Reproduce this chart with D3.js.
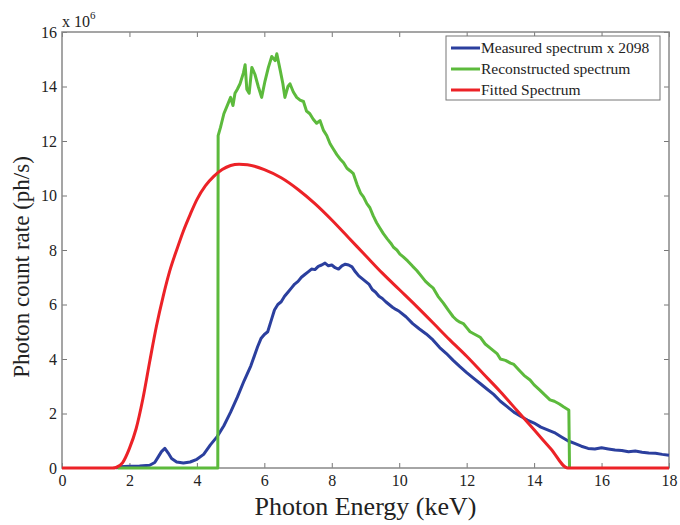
<!DOCTYPE html>
<html>
<head>
<meta charset="utf-8">
<script src="https://cdn.jsdelivr.net/npm/d3@7"></script>
<style>
  body { margin: 0; background: #fff; }
  svg text { font-family: "Liberation Serif", "DejaVu Serif", serif; fill: #222; }
</style>
</head>
<body>
<div id="chart"></div>
<script>
// data: [energy keV, count rate x 1e6]
var measured = [[1.6,0],[1.7,0.05],[2.0,0.06],[2.3,0.07],[2.6,0.1],[2.75,0.2],[2.85,0.4],[2.95,0.6],[3.05,0.72],[3.15,0.55],[3.25,0.35],[3.4,0.22],[3.6,0.18],[3.8,0.22],[4.0,0.32],[4.2,0.5],[4.4,0.85],[4.6,1.15],[4.8,1.55],[5.0,2.05],[5.2,2.6],[5.4,3.2],[5.6,3.75],[5.8,4.45],[5.9,4.75],[6.0,4.9],[6.1,5.0],[6.2,5.4],[6.3,5.8],[6.4,6.0],[6.5,6.1],[6.6,6.3],[6.7,6.45],[6.8,6.6],[6.9,6.75],[7.0,6.85],[7.1,7.0],[7.2,7.1],[7.3,7.2],[7.4,7.3],[7.5,7.28],[7.6,7.4],[7.7,7.45],[7.8,7.52],[7.9,7.42],[8.0,7.45],[8.1,7.35],[8.2,7.3],[8.3,7.42],[8.4,7.48],[8.5,7.45],[8.6,7.38],[8.7,7.2],[8.8,7.05],[8.9,6.95],[9.0,6.85],[9.1,6.75],[9.2,6.55],[9.3,6.45],[9.4,6.3],[9.5,6.22],[9.6,6.1],[9.7,6.0],[9.8,5.9],[9.9,5.82],[10.0,5.75],[10.2,5.55],[10.4,5.3],[10.6,5.1],[10.8,4.92],[11.0,4.7],[11.2,4.42],[11.4,4.2],[11.6,3.95],[11.8,3.72],[12.0,3.5],[12.2,3.3],[12.4,3.1],[12.6,2.9],[12.8,2.7],[13.0,2.45],[13.2,2.25],[13.4,2.05],[13.6,1.9],[13.8,1.76],[14.0,1.65],[14.2,1.5],[14.4,1.4],[14.6,1.3],[14.8,1.15],[15.0,1.0],[15.2,0.9],[15.4,0.8],[15.6,0.72],[15.8,0.7],[16.0,0.74],[16.2,0.7],[16.4,0.66],[16.6,0.64],[16.8,0.6],[17.0,0.62],[17.2,0.58],[17.4,0.55],[17.6,0.54],[17.8,0.5],[18.0,0.47]];

var reconstructed = [[1.65,0],[4.62,0],[4.63,12.2],[4.7,12.5],[4.8,13.0],[4.9,13.3],[5.0,13.6],[5.07,13.3],[5.13,13.75],[5.2,13.9],[5.28,14.1],[5.38,14.5],[5.43,14.8],[5.48,13.9],[5.55,13.75],[5.63,14.7],[5.72,14.45],[5.82,14.0],[5.92,13.6],[6.02,14.2],[6.12,14.7],[6.22,15.1],[6.32,14.95],[6.37,15.2],[6.47,14.6],[6.55,14.1],[6.61,13.6],[6.7,14.0],[6.76,14.1],[6.86,13.8],[6.96,13.6],[7.06,13.5],[7.16,13.45],[7.25,13.1],[7.35,13.0],[7.45,12.8],[7.55,12.65],[7.65,12.75],[7.75,12.4],[7.85,12.2],[7.95,11.9],[8.05,11.7],[8.15,11.5],[8.24,11.35],[8.35,11.2],[8.45,11.0],[8.55,10.9],[8.64,10.8],[8.75,10.4],[8.85,10.1],[8.94,9.95],[9.04,9.7],[9.13,9.55],[9.23,9.25],[9.33,9.0],[9.43,8.8],[9.53,8.6],[9.65,8.4],[9.75,8.25],[9.83,8.1],[9.93,8.0],[10.02,7.85],[10.12,7.75],[10.25,7.6],[10.4,7.4],[10.52,7.25],[10.65,7.05],[10.78,6.85],[10.91,6.7],[11.01,6.6],[11.15,6.3],[11.31,6.05],[11.45,5.8],[11.6,5.55],[11.7,5.43],[11.8,5.35],[11.9,5.3],[12.0,5.15],[12.1,5.0],[12.25,4.9],[12.4,4.8],[12.55,4.55],[12.7,4.4],[12.8,4.3],[12.9,4.2],[13.0,4.0],[13.15,3.95],[13.3,3.85],[13.4,3.8],[13.55,3.6],[13.7,3.4],[13.88,3.23],[14.0,3.05],[14.17,2.86],[14.3,2.7],[14.47,2.5],[14.6,2.45],[14.75,2.35],[14.87,2.25],[15.0,2.15],[15.03,2.12],[15.05,0]];

var fitted = [[0,0],[1.5,0],[1.6,0.02],[1.8,0.2],[2.0,0.72],[2.2,1.45],[2.4,2.55],[2.6,3.9],[2.8,5.2],[3.0,6.3],[3.2,7.25],[3.4,8.0],[3.6,8.7],[3.8,9.3],[4.0,9.85],[4.25,10.35],[4.5,10.7],[4.75,10.95],[5.0,11.1],[5.25,11.15],[5.5,11.13],[6.0,10.95],[6.5,10.65],[7.0,10.22],[7.5,9.7],[8.0,9.1],[8.5,8.45],[9.0,7.8],[9.5,7.15],[10.0,6.55],[10.5,5.95],[11.0,5.33],[11.5,4.7],[12.0,4.1],[12.5,3.45],[13.0,2.8],[13.5,2.1],[14.0,1.4],[14.5,0.7],[15.0,0],[18.0,0]];

var seriesNames = ["Measured spectrum x 2098", "Reconstructed spectrum", "Fitted Spectrum"];
var seriesColors = ["#2b3f9e", "#5cba3c", "#ec2227"];
var xTicks = [0, 2, 4, 6, 8, 10, 12, 14, 16, 18];
var yTicks = [0, 2, 4, 6, 8, 10, 12, 14, 16];

var svgWidth = 680, svgHeight = 525;
var margin = { top: 32, right: 11, bottom: 57, left: 62 };
var chartWidth = svgWidth - margin.left - margin.right;
var chartHeight = svgHeight - margin.top - margin.bottom;

var svg = d3.select("#chart")
    .append("svg")
    .attr("width", svgWidth)
    .attr("height", svgHeight);

var chartGroup = svg.append("g")
    .attr("transform", `translate(${margin.left}, ${margin.top})`);

var xScale = d3.scaleLinear().domain([0, 18]).range([0, chartWidth]);
var yScale = d3.scaleLinear().domain([0, 16]).range([chartHeight, 0]);

// axes, ticks pointing inward on all four sides (matlab box)
function styleAxis(g) {
    g.attr("font-family", null);
    g.select(".domain").remove();
    g.selectAll(".tick line").attr("stroke", "#777");
    g.selectAll(".tick text").style("font-size", "16px").attr("fill", "#333");
}

chartGroup.append("g")
    .attr("transform", `translate(0, ${chartHeight})`)
    .call(d3.axisBottom(xScale).tickValues(xTicks).tickSizeInner(-5).tickSizeOuter(0).tickPadding(7))
    .call(styleAxis);

chartGroup.append("g")
    .call(d3.axisLeft(yScale).tickValues(yTicks).tickSizeInner(-5).tickSizeOuter(0).tickPadding(5))
    .call(styleAxis);

chartGroup.append("g")
    .call(d3.axisTop(xScale).tickValues(xTicks).tickSizeInner(-5).tickSizeOuter(0).tickFormat(""))
    .call(styleAxis);

chartGroup.append("g")
    .attr("transform", `translate(${chartWidth}, 0)`)
    .call(d3.axisRight(yScale).tickValues(yTicks).tickSizeInner(-5).tickSizeOuter(0).tickFormat(""))
    .call(styleAxis);

chartGroup.append("rect")
    .attr("width", chartWidth)
    .attr("height", chartHeight)
    .attr("fill", "none")
    .attr("stroke", "#888")
    .attr("stroke-width", 1.5);

// lines
var line = d3.line()
    .x(d => xScale(d[0]))
    .y(d => yScale(d[1]));

var smoothLine = d3.line()
    .curve(d3.curveMonotoneX)
    .x(d => xScale(d[0]))
    .y(d => yScale(d[1]));

[measured, reconstructed].forEach((s, i) => {
    chartGroup.append("path")
        .datum(s)
        .attr("d", line)
        .attr("fill", "none")
        .attr("stroke", seriesColors[i])
        .attr("stroke-width", 3)
        .attr("stroke-linejoin", "round");
});

chartGroup.append("path")
    .datum(fitted)
    .attr("d", smoothLine)
    .attr("fill", "none")
    .attr("stroke", seriesColors[2])
    .attr("stroke-width", 3);

// exponent label
var expText = svg.append("text")
    .attr("x", margin.left)
    .attr("y", 27)
    .style("font-size", "16px");
expText.append("tspan").text("x 10");
expText.append("tspan").attr("dy", -8).style("font-size", "11px").text("6");

// axis titles
svg.append("text")
    .attr("x", margin.left + chartWidth / 2)
    .attr("y", 515)
    .attr("text-anchor", "middle")
    .style("font-size", "26px")
    .text("Photon Energy (keV)");

svg.append("text")
    .attr("transform", "translate(29, 267) rotate(-90)")
    .attr("text-anchor", "middle")
    .style("font-size", "23px")
    .text("Photon count rate (ph/s)");

// legend
var legend = svg.append("g").attr("transform", "translate(446, 36)");
legend.append("rect")
    .attr("width", 214)
    .attr("height", 64)
    .attr("fill", "#fff")
    .attr("stroke", "#777");

seriesNames.forEach((name, i) => {
    var row = legend.append("g").attr("transform", `translate(0, ${12 + i * 21})`);
    row.append("line")
        .attr("x1", 5).attr("x2", 34)
        .attr("stroke", seriesColors[i])
        .attr("stroke-width", 3);
    row.append("text")
        .attr("x", 35)
        .attr("dy", "0.35em")
        .style("font-size", "15.5px")
        .text(name);
});
</script>
</body>
</html>
